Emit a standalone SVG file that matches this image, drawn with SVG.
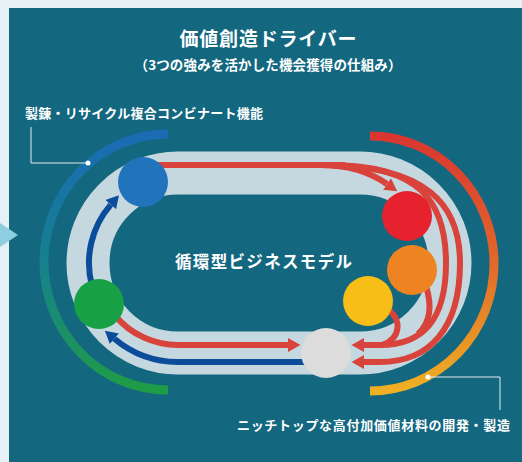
<svg xmlns="http://www.w3.org/2000/svg" width="522" height="462" viewBox="0 0 522 462">
<style>
.t{font-family:"Noto Sans CJK JP","Noto Sans",sans-serif;font-weight:700;fill:#ffffff}
.red{fill:none;stroke:#d8433b;stroke-width:6}
.blue{fill:none;stroke:#0c4d9b;stroke-width:6}
.lead{fill:none;stroke:#e4ecef;stroke-width:1}
</style>
<defs>
<linearGradient id="gl" x1="0" y1="0" x2="0" y2="1">
<stop offset="0" stop-color="#1a6bb4"/>
<stop offset="0.5" stop-color="#15818e"/>
<stop offset="1" stop-color="#1f9c46"/>
</linearGradient>
<linearGradient id="gr" x1="0" y1="0" x2="0" y2="1">
<stop offset="0" stop-color="#d93630"/>
<stop offset="0.5" stop-color="#e2692a"/>
<stop offset="1" stop-color="#efb023"/>
</linearGradient>
<marker id="ar" markerUnits="userSpaceOnUse" markerWidth="13" markerHeight="14" viewBox="0 0 13 14" refX="0" refY="7" orient="auto">
<path d="M0,0 L12.5,7 L0,14 Z" fill="#d8433b"/>
</marker>
<marker id="ab" markerUnits="userSpaceOnUse" markerWidth="13" markerHeight="14" viewBox="0 0 13 14" refX="0" refY="7" orient="auto">
<path d="M0,0 L12.5,7 L0,14 Z" fill="#0c4d9b"/>
</marker>
</defs>
<rect x="0" y="0" width="522" height="462" fill="#e6f1f6"/>
<rect x="9" y="8" width="513" height="454" fill="#13677f"/>
<polygon points="0,223 18,235 0,247" fill="#8dcfe0"/>
<text class="t" x="268" y="46" font-size="19" text-anchor="middle" textLength="177" lengthAdjust="spacing">価値創造ドライバー</text>
<text class="t" x="268" y="70" font-size="13.5" text-anchor="middle" textLength="267" lengthAdjust="spacing">（3つの強みを活かした機会獲得の仕組み）</text>
<g id="arc-left">
<path d="M168 134 A124 128 0 0 0 168 390" fill="none" stroke="url(#gl)" stroke-width="9"/>
</g>
<g id="arc-right">
<path d="M370 136 A124 127.5 0 0 1 370 391" fill="none" stroke="url(#gr)" stroke-width="9"/>
</g>
<g id="track">
<path d="M178 173 H360 A90 90 0 0 1 360 353 H178 A90 90 0 0 1 178 173 Z" fill="none" stroke="#c5d8df" stroke-width="43"/>
</g>
<g id="label-left">
<text class="t" x="25" y="118" font-size="13" textLength="238" lengthAdjust="spacing">製錬・リサイクル複合コンビナート機能</text>
<path class="lead" d="M31 127 V163 H88"/>
<circle cx="88" cy="163" r="2.5" fill="#ffffff"/>
</g>
<g id="label-right">
<text class="t" x="510" y="430" font-size="13" text-anchor="end" textLength="273" lengthAdjust="spacing">ニッチトップな高付加価値材料の開発・製造</text>
<path class="lead" d="M428 377 H500 V410"/>
<circle cx="428" cy="377" r="2.5" fill="#ffffff"/>
</g>
<g id="connectors">
<path class="red" d="M150 165 H345"/>
<path class="red" d="M320 165 C350 165 370 172 387 184" marker-end="url(#ar)"/>
<path class="red" d="M320 165 C428 165 460 205 460 263 C460 328 430 362 380 362 L364 362" marker-end="url(#ar)"/>
<path class="red" d="M330 165 C418 165 446 200 446 263 C446 318 425 345 380 345 L364 345" marker-end="url(#ar)"/>
<path class="red" d="M426 286 C432 305 431 322 418 334"/>
<path class="red" d="M386 308 C402 318 402 338 382 345"/>
<path class="red" d="M115.2 315.7 A82 82 0 0 0 178 345 H288" marker-end="url(#ar)"/>
<path class="blue" d="M310 362 H178 A99 99 0 0 1 114.4 338.8" marker-end="url(#ab)"/>
<path class="blue" d="M92 286 A89 89 0 0 1 110.8 204.6" marker-end="url(#ab)"/>
</g>
<g id="node-blue"><circle cx="143" cy="182" r="25" fill="#2173bc"/></g>
<g id="node-green"><circle cx="99" cy="304" r="25" fill="#17a045"/></g>
<g id="node-red"><circle cx="407" cy="216" r="25" fill="#e5222e"/></g>
<g id="node-orange"><circle cx="412" cy="270" r="25" fill="#ee8421"/></g>
<g id="node-yellow"><circle cx="368" cy="301" r="25" fill="#f7be17"/></g>
<g id="node-gray"><circle cx="326" cy="353" r="25" fill="#dcdcdc"/></g>
<g id="center-label">
<text class="t" x="263.5" y="268" font-size="16.5" text-anchor="middle" textLength="177" lengthAdjust="spacing">循環型ビジネスモデル</text>
</g>
</svg>
